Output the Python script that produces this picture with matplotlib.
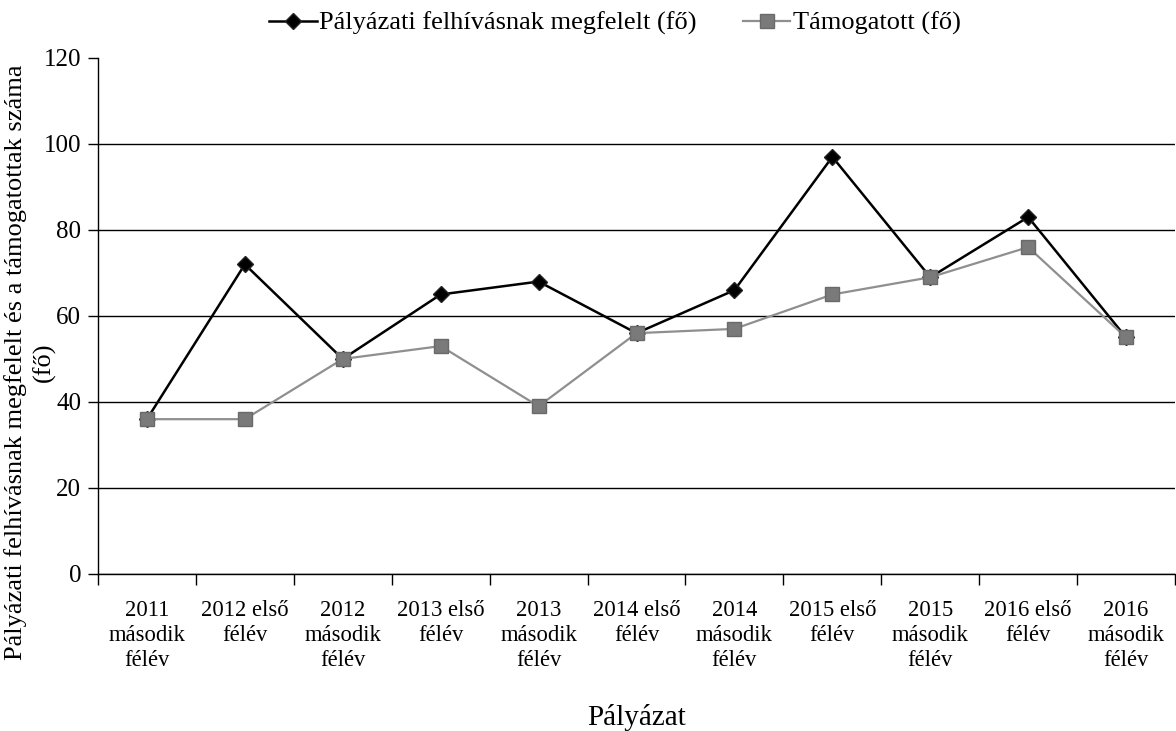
import numpy as np
import matplotlib
matplotlib.use('Agg')
import matplotlib.pyplot as plt

plt.rcParams['font.family'] = ['Liberation Serif', 'DejaVu Serif']

#Categories (palyazati idoszakok)
categories = ['2011\nmásodik\nfélév', '2012 első\nfélév', '2012\nmásodik\nfélév',
              '2013 első\nfélév', '2013\nmásodik\nfélév', '2014 első\nfélév',
              '2014\nmásodik\nfélév', '2015 első\nfélév', '2015\nmásodik\nfélév',
              '2016 első\nfélév', '2016\nmásodik\nfélév']
megfelelt = [36, 72, 50, 65, 68, 56, 66, 97, 69, 83, 55]
tamogatott = [36, 36, 50, 53, 39, 56, 57, 65, 69, 76, 55]
y_ticks = [0, 20, 40, 60, 80, 100, 120]

fig = plt.figure(figsize=(11.76, 7.31), dpi=100)
ax = fig.add_axes([0.0833, 0.2148, 0.9159, 0.7059])

x = np.arange(len(categories))
ax.plot(x, megfelelt, color='black', lw=1.8, marker='D', markersize=8,
        markerfacecolor='black', markeredgecolor='#222222',
        label='Pályázati felhívásnak megfelelt (fő)', zorder=3)
ax.plot(x, tamogatott, color='#8f8f8f', lw=1.6, marker='s', markersize=10,
        markerfacecolor='#7a7a7a', markeredgecolor='#6a6a6a',
        label='Támogatott (fő)', zorder=4)

ax.set_xlim(-0.5, len(categories) - 0.5)
ax.set_ylim(0, 120)
ax.set_yticks(y_ticks)
ax.tick_params(axis='y', labelsize=18, length=7, width=1, direction='out', pad=5)
ax.yaxis.grid(True, color='black', lw=1)
ax.get_ygridlines()[-1].set_visible(False)
ax.set_axisbelow(True)

#category labels between the boundary ticks
ax.set_xticks(x)
ax.set_xticklabels(categories, fontsize=16.3, linespacing=1.24)
ax.tick_params(axis='x', which='major', length=0, pad=19)
ax.set_xticks(np.arange(-0.5, len(categories)), minor=True)
ax.tick_params(axis='x', which='minor', length=8, width=1, direction='out')

for s in ['top', 'right']:
    ax.spines[s].set_visible(False)
ax.spines['left'].set_linewidth(1)
ax.spines['bottom'].set_linewidth(1)

ax.set_xlabel('Pályázat', fontsize=21, labelpad=24)

#y axis title in two rotated lines (second line sits closer to the axis)
fig.text(0.0136, 0.505, 'Pályázati felhívásnak megfelelt és a támogatottak száma',
         rotation=90, ha='center', va='center', fontsize=19)
fig.text(0.0374, 0.505, '(fő)', rotation=90, ha='center', va='center', fontsize=19)

fig.legend(loc='upper center', bbox_to_anchor=(0.523, 1.017), ncol=2, frameon=False,
           fontsize=19, handlelength=1.8, handletextpad=0.1, columnspacing=1.75)

plt.savefig('out.png', dpi=100)
